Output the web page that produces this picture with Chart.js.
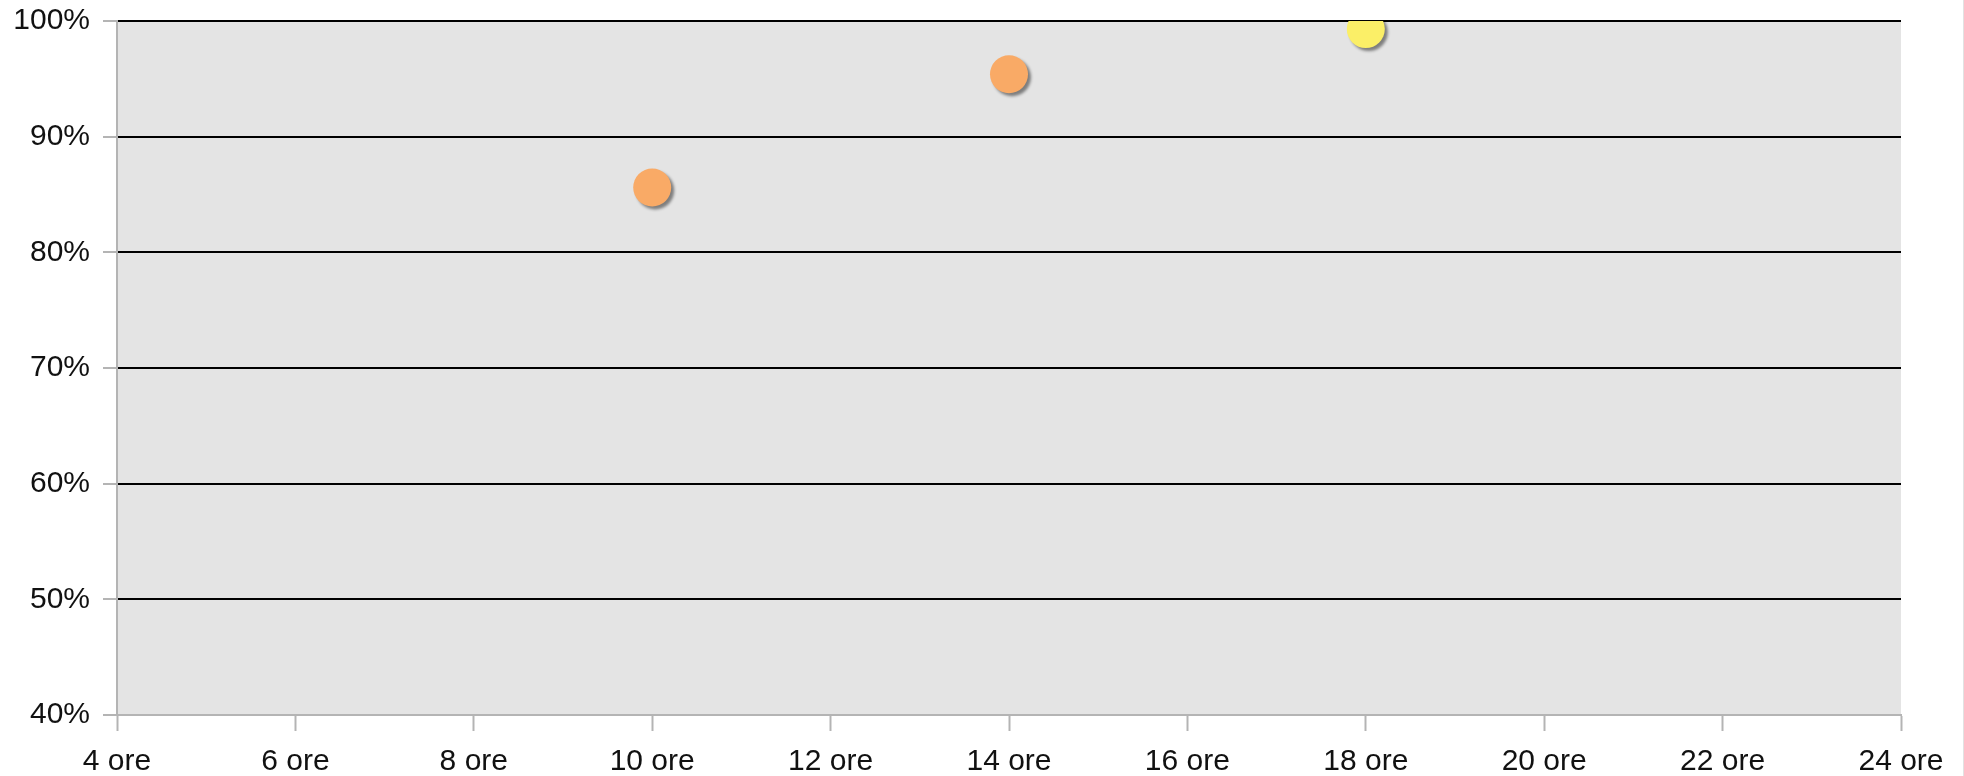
<!DOCTYPE html>
<html>
<head>
<meta charset="utf-8">
<script src="https://cdn.jsdelivr.net/npm/chart.js@4/dist/chart.umd.min.js"></script>
<style>
    html, body { margin: 0; padding: 0; background: #fff; }
    #wrap { width: 1964px; height: 776px; position: relative; }
</style>
</head>
<body>
<div id="wrap"><canvas id="chart"></canvas></div>
<script>
// Data
const hours = [10, 14, 18];
const percentValues = [85.6, 95.4, 99.3];
const xTickValues = [4, 6, 8, 10, 12, 14, 16, 18, 20, 22, 24];
const yTickValues = [40, 50, 60, 70, 80, 90, 100];

const pointColors = ['#F9AA66', '#F9AA66', '#FBEF67'];
const axisGrey = '#b4b4b4';
const textColor = '#111';
const fontFamily = 'Arial, "Liberation Sans", sans-serif';

// plot background + faint right border + point shadows
const plotDecor = {
    id: 'plotDecor',
    beforeDraw(chart) {
        const { ctx, chartArea } = chart;
        ctx.save();
        ctx.fillStyle = '#e4e4e4';
        ctx.fillRect(chartArea.left, chartArea.top, chartArea.right - chartArea.left, chartArea.bottom - chartArea.top);
        ctx.fillStyle = '#e2e2e2';
        ctx.fillRect(chart.width - 1, 0, 1, chart.height);
        ctx.restore();
    },
    beforeDatasetsDraw(chart) {
        const ctx = chart.ctx;
        ctx.save();
        ctx.shadowColor = 'rgba(0, 0, 0, 0.45)';
        ctx.shadowOffsetX = 3;
        ctx.shadowOffsetY = 3;
        ctx.shadowBlur = 3;
    },
    afterDatasetsDraw(chart) {
        chart.ctx.restore();
    }
};

const points = hours.map((h, i) => ({ x: h, y: percentValues[i] }));

new Chart(document.getElementById('chart'), {
    type: 'scatter',
    data: {
        datasets: [{
            data: points,
            backgroundColor: pointColors,
            borderColor: pointColors,
            borderWidth: 0,
            pointRadius: 19,
            pointHoverRadius: 19
        }]
    },
    options: {
        responsive: true,
        maintainAspectRatio: false,
        animation: false,
        layout: { padding: { top: 21, right: 63, bottom: 0, left: 0 } },
        plugins: {
            legend: { display: false },
            tooltip: { enabled: false }
        },
        scales: {
            x: {
                type: 'linear',
                min: xTickValues[0],
                max: xTickValues[xTickValues.length - 1],
                afterBuildTicks: scale => { scale.ticks = xTickValues.map(v => ({ value: v })); },
                afterFit: scale => {
                    scale.height = 61;
                    scale.paddingLeft = 0;
                    scale.paddingRight = 0;
                },
                ticks: {
                    color: textColor,
                    font: { family: fontFamily, size: 30 },
                    padding: 13,
                    maxRotation: 0,
                    autoSkip: false,
                    callback: v => v + ' ore'
                },
                grid: {
                    drawOnChartArea: false,
                    drawTicks: true,
                    tickLength: 16,
                    tickColor: axisGrey,
                    tickWidth: 2
                },
                border: { color: axisGrey, width: 2 }
            },
            y: {
                min: yTickValues[0],
                max: yTickValues[yTickValues.length - 1],
                afterBuildTicks: scale => { scale.ticks = yTickValues.map(v => ({ value: v })); },
                afterFit: scale => {
                    scale.width = 117;
                    scale.paddingTop = 0;
                    scale.paddingBottom = 0;
                },
                ticks: {
                    color: textColor,
                    font: { family: fontFamily, size: 30 },
                    padding: 13,
                    callback: v => v + '%'
                },
                grid: {
                    color: ctx => (ctx.tick && ctx.tick.value === yTickValues[0]) ? 'rgba(0,0,0,0)' : '#000',
                    lineWidth: 2,
                    drawTicks: true,
                    tickLength: 14,
                    tickColor: axisGrey,
                    tickWidth: 2
                },
                border: { color: axisGrey, width: 2 }
            }
        }
    },
    plugins: [plotDecor]
});
</script>
</body>
</html>
